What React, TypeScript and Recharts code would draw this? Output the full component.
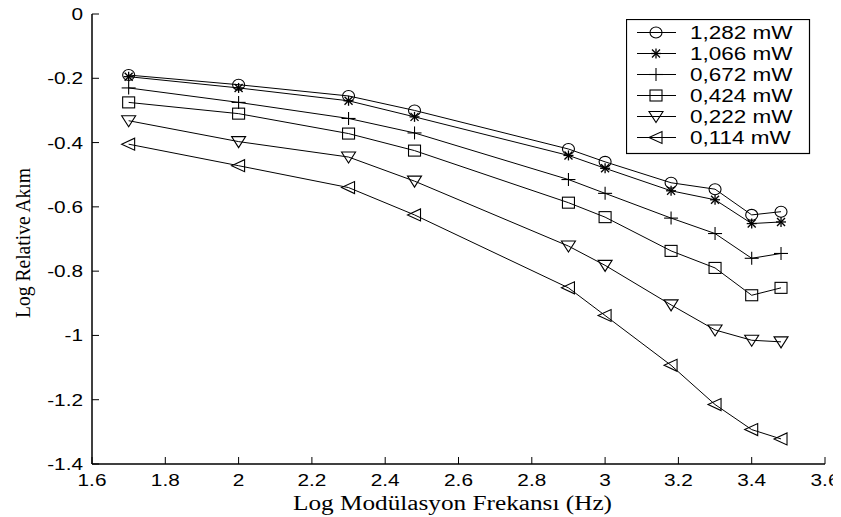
import React from "react";
import { LineChart, Line, XAxis, YAxis, Legend, Label } from "recharts";

// log10 of modulation frequency (Hz)
const LOG_FREQ = [1.7, 2.0, 2.3, 2.48, 2.9, 3.0, 3.18, 3.3, 3.4, 3.48];

// log relative current per optical power
const P1282 = [-0.19, -0.22, -0.255, -0.3, -0.42, -0.46, -0.525, -0.545, -0.625, -0.615];
const P1066 = [-0.195, -0.23, -0.27, -0.32, -0.44, -0.48, -0.55, -0.578, -0.652, -0.647];
const P0672 = [-0.23, -0.275, -0.325, -0.37, -0.515, -0.558, -0.635, -0.683, -0.76, -0.745];
const P0424 = [-0.275, -0.31, -0.372, -0.425, -0.587, -0.632, -0.737, -0.79, -0.875, -0.852];
const P0222 = [-0.332, -0.397, -0.445, -0.52, -0.722, -0.782, -0.905, -0.983, -1.015, -1.02];
const P0114 = [-0.405, -0.472, -0.54, -0.625, -0.852, -0.938, -1.093, -1.215, -1.293, -1.322];

const X_TICKS = [1.6, 1.8, 2, 2.2, 2.4, 2.6, 2.8, 3, 3.2, 3.4, 3.6];
const Y_TICKS = [0, -0.2, -0.4, -0.6, -0.8, -1, -1.2, -1.4];

type MarkerKind = "circle" | "star" | "plus" | "square" | "down" | "left";

const SERIES: { key: string; name: string; marker: MarkerKind; values: number[] }[] = [
  { key: "p1282", name: "1,282 mW", marker: "circle", values: P1282 },
  { key: "p1066", name: "1,066 mW", marker: "star", values: P1066 },
  { key: "p0672", name: "0,672 mW", marker: "plus", values: P0672 },
  { key: "p0424", name: "0,424 mW", marker: "square", values: P0424 },
  { key: "p0222", name: "0,222 mW", marker: "down", values: P0222 },
  { key: "p0114", name: "0,114 mW", marker: "left", values: P0114 },
];

const data = LOG_FREQ.map((x, i) => {
  const row: Record<string, number> = { x };
  SERIES.forEach((s) => {
    row[s.key] = s.values[i];
  });
  return row;
});

const SANS = "'Liberation Sans', Arial, sans-serif";
const SERIF = "'Liberation Serif', 'Times New Roman', serif";
const TICK_LEN = 7;

function Marker({ kind, cx, cy }: { kind: MarkerKind; cx: number; cy: number }) {
  const st = { fill: "none", stroke: "#000", strokeWidth: 1.1 };
  switch (kind) {
    case "circle":
      return <ellipse cx={cx} cy={cy} rx={6} ry={5.5} {...st} />;
    case "star":
      return (
        <g {...st} strokeWidth={1.3}>
          <line x1={cx - 5} x2={cx + 5} y1={cy} y2={cy} />
          <line x1={cx} x2={cx} y1={cy - 5} y2={cy + 5} />
          <line x1={cx - 4} x2={cx + 4} y1={cy - 4} y2={cy + 4} />
          <line x1={cx - 4} x2={cx + 4} y1={cy + 4} y2={cy - 4} />
        </g>
      );
    case "plus":
      return (
        <g {...st}>
          <line x1={cx - 7} x2={cx + 7} y1={cy} y2={cy} />
          <line x1={cx} x2={cx} y1={cy - 6.5} y2={cy + 6.5} />
        </g>
      );
    case "square":
      return <rect x={cx - 6} y={cy - 5.5} width={12} height={11} {...st} />;
    case "down":
      return <polygon points={`${cx - 7},${cy - 5} ${cx + 7},${cy - 5} ${cx},${cy + 6}`} {...st} />;
    case "left":
      return <polygon points={`${cx - 7},${cy} ${cx + 6},${cy - 6} ${cx + 6},${cy + 6}`} {...st} />;
  }
  return null;
}

const fmt = (v: number) => String(v);

const BottomTick = (props: any) => {
  const { x, y, payload } = props;
  return (
    <g>
      <line x1={x} x2={x} y1={y} y2={y - TICK_LEN} stroke="#000" />
      <text
        transform={`translate(${x},${y + 22}) scale(1.3,1)`}
        textAnchor="middle"
        style={{ fontFamily: SANS, fontSize: 16 }}
        fill="#000"
      >
        {fmt(payload.value)}
      </text>
    </g>
  );
};

const LeftTick = (props: any) => {
  const { x, y, payload } = props;
  return (
    <g>
      <line x1={x} x2={x + TICK_LEN} y1={y} y2={y} stroke="#000" />
      <text
        transform={`translate(${x - 9},${y + 6}) scale(1.3,1)`}
        textAnchor="end"
        style={{ fontFamily: SANS, fontSize: 16 }}
        fill="#000"
      >
        {fmt(payload.value)}
      </text>
    </g>
  );
};

const TopTick = (props: any) => {
  const { x, y } = props;
  return <line x1={x} x2={x} y1={y} y2={y + TICK_LEN} stroke="#000" />;
};

const RightTick = (props: any) => {
  const { x, y } = props;
  return <line x1={x} x2={x - TICK_LEN} y1={y} y2={y} stroke="#000" />;
};

const renderLegend = () => (
  <svg width={185} height={136} style={{ display: "block" }}>
    <rect x={0.5} y={0.5} width={183} height={134} fill="#fff" stroke="#000" strokeWidth={1.2} />
    {SERIES.map((s, i) => {
      const cy = 13.5 + i * 21;
      return (
        <g key={s.key}>
          <line x1={11} x2={50} y1={cy} y2={cy} stroke="#000" />
          <Marker kind={s.marker} cx={30} cy={cy} />
          <text
            transform={`translate(64,${cy + 6.5}) scale(1.25,1)`}
            style={{ fontFamily: SANS, fontSize: 18 }}
            fill="#000"
          >
            {s.name}
          </text>
        </g>
      );
    })}
  </svg>
);

export default function App() {
  return (
    <div style={{ width: 833, height: 509, background: "#fff" }}>
      <LineChart width={833} height={509} data={data} margin={{ top: 6, right: 16, left: 0, bottom: 0 }}>
        <XAxis
          dataKey="x"
          type="number"
          domain={[1.6, 3.6]}
          ticks={X_TICKS}
          interval={0}
          height={53}
          tickSize={0}
          tickMargin={0}
          tickLine={false}
          tick={<BottomTick />}
          axisLine={{ stroke: "#000", strokeWidth: 1.5 }}
        >
          <Label
            content={(p: any) => {
              const vb = p.viewBox;
              return (
                <text
                  x={vb.x + vb.width / 2 - 6}
                  y={vb.y + 46}
                  textAnchor="middle"
                  textLength={319}
                  lengthAdjust="spacingAndGlyphs"
                  style={{ fontFamily: SERIF, fontSize: 20 }}
                  fill="#000"
                >
                  Log Modülasyon Frekansı (Hz)
                </text>
              );
            }}
          />
        </XAxis>
        <XAxis
          xAxisId="top"
          orientation="top"
          dataKey="x"
          type="number"
          domain={[1.6, 3.6]}
          ticks={X_TICKS}
          interval={0}
          height={0}
          tickSize={0}
          tickMargin={0}
          tickLine={false}
          tick={<TopTick />}
          axisLine={{ stroke: "#000", strokeWidth: 1.5 }}
        />
        <YAxis
          type="number"
          domain={[-1.4, 0]}
          ticks={Y_TICKS}
          interval={0}
          width={84}
          tickSize={0}
          tickMargin={0}
          tickLine={false}
          tick={<LeftTick />}
          axisLine={{ stroke: "#000", strokeWidth: 1.5 }}
        >
          <Label
            content={() => (
              <text
                transform="translate(22,235) rotate(-90)"
                textAnchor="middle"
                textLength={150}
                lengthAdjust="spacingAndGlyphs"
                style={{ fontFamily: SERIF, fontSize: 20 }}
                fill="#000"
              >
                Log Relative Akım
              </text>
            )}
          />
        </YAxis>
        <YAxis
          yAxisId="right"
          orientation="right"
          type="number"
          domain={[-1.4, 0]}
          ticks={Y_TICKS}
          interval={0}
          width={0}
          tickSize={0}
          tickMargin={0}
          tickLine={false}
          tick={<RightTick />}
          axisLine={{ stroke: "#000", strokeWidth: 1.5 }}
        />
        <Legend
          layout="horizontal"
          verticalAlign="middle"
          align="center"
          content={renderLegend}
          wrapperStyle={{ position: "absolute", left: 618, top: 11, width: 185, height: 136 }}
        />
        {SERIES.map((s) => (
          <Line
            key={s.key}
            dataKey={s.key}
            name={s.name}
            type="linear"
            stroke="#000"
            strokeWidth={1}
            isAnimationActive={false}
            activeDot={false}
            dot={(p: any) => <Marker key={`${s.key}-${p.index}`} kind={s.marker} cx={p.cx} cy={p.cy} />}
          />
        ))}
      </LineChart>
    </div>
  );
}
